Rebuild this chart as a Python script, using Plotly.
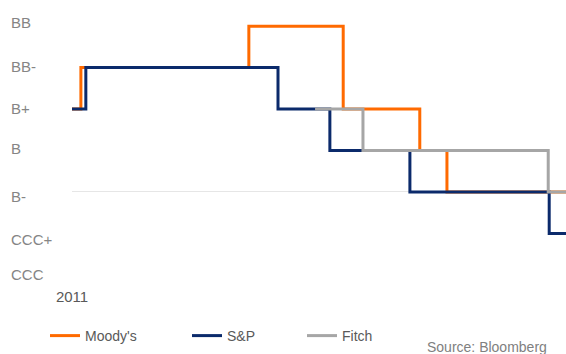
import plotly.graph_objects as go

# Rating scale (bottom to top); B- sits on the zero line
ratings = ["CCC", "CCC+", "B-", "B", "B+", "BB-", "BB"]
level = {r: i - 2 for i, r in enumerate(ratings)}

# Time axis in arbitrary units (0 = start of 2011)
moodys_x = [0, 1.8, 35.8, 54.9, 70.4, 75.9, 100]
moodys_r = ["B+", "BB-", "BB", "B+", "B", "B-", "B-"]

sp_x = [0, 2.8, 41.7, 52.2, 68.4, 96.6, 100]
sp_r = ["B+", "BB-", "B+", "B", "B-", "CCC+", "CCC+"]

fitch_x = [49.2, 58.9, 96.4, 100]
fitch_r = ["B+", "B", "B-", "B-"]

x_tick_vals = [0]
x_tick_text = ["2011"]

series = [
    ("Moody's", moodys_x, moodys_r, "#FF6A00", "legend"),
    ("S&P", sp_x, sp_r, "#0B2A6B", "legend2"),
    ("Fitch", fitch_x, fitch_r, "#A6A6A6", "legend3"),
]

fig = go.Figure()
for name, xs, rs, color, lg in series:
    fig.add_trace(go.Scatter(
        x=xs, y=[level[r] for r in rs], name=name, mode="lines",
        line=dict(color=color, width=3, shape="hv"), legend=lg,
    ))

legend_font = dict(family="Liberation Sans, Arial", size=14, color="#595959")
def lg(xpx):
    return dict(x=xpx / 566, xref="container", y=(354 - 336) / 354, yref="container",
                xanchor="left", yanchor="middle", orientation="h",
                font=legend_font, bgcolor="rgba(0,0,0,0)", borderwidth=0)

# small manual nudges of the rating labels (pixels, up = positive), as in the source slide
label_nudge = {"BB": 4, "BB-": 1, "B+": 1, "B": 2, "B-": -5, "CCC+": -6, "CCC": 0}

annotations = []
for r in ratings:
    annotations.append(dict(
        x=0, xref="paper", xanchor="left", xshift=-63,
        y=level[r], yref="y", yanchor="middle", yshift=label_nudge[r],
        text=r, showarrow=False,
        font=dict(family="Liberation Sans, Arial", size=15, color="#858585"),
    ))
annotations.append(dict(
    x=(425 - 72) / 494, xref="paper", xanchor="left", y=0, yref="paper", yanchor="middle",
    yshift=-(347 - 279), text="Source: Bloomberg", showarrow=False,
    font=dict(family="Liberation Sans, Arial", size=14, color="#808080"),
))

fig.update_layout(
    width=566, height=354,
    margin=dict(l=72, r=0, t=22, b=75, autoexpand=False),
    paper_bgcolor="white", plot_bgcolor="white",
    showlegend=True,
    legend=lg(45), legend2=lg(187), legend3=lg(302),
    annotations=annotations,
    xaxis=dict(range=[0, 100], tickvals=x_tick_vals, ticktext=x_tick_text,
               showgrid=False, zeroline=False, showline=False,
               ticks="outside", ticklen=4, tickcolor="rgba(0,0,0,0)",
               tickfont=dict(family="Liberation Sans, Arial", size=15, color="#595959")),
    yaxis=dict(range=[-2.1, 4.1], showticklabels=False, showgrid=False,
               zeroline=True, zerolinecolor="#E6E6E6", zerolinewidth=1,
               showline=False),
)

fig.write_html("out.html")
